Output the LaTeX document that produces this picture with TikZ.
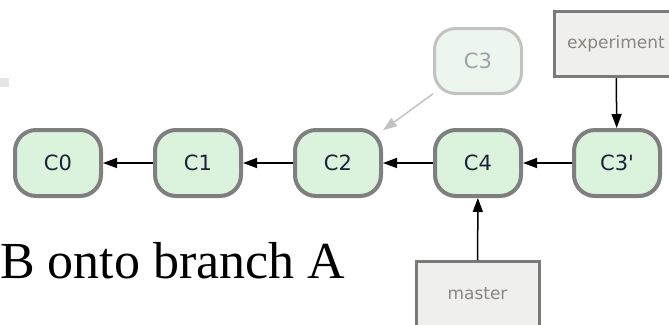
\documentclass[tikz,border=0pt]{standalone}
\usepackage{fontspec}
\setmainfont{Liberation Serif}
\newfontfamily\commitfont{DejaVu Sans}
\usetikzlibrary{arrows.meta}
\definecolor{commitfill}{HTML}{DBF2DD}
\definecolor{commitline}{HTML}{7F7F7F}
\definecolor{committext}{HTML}{1C2238}
\definecolor{ghostfill}{HTML}{EDF6EE}
\definecolor{ghostline}{HTML}{C2C2C2}
\definecolor{ghosttext}{HTML}{9AA3A8}
\definecolor{reffill}{HTML}{EFEFED}
\definecolor{refline}{HTML}{7A7A7A}
\definecolor{reftext}{HTML}{8A8580}
\tikzset{
  commit/.style={draw=commitline, line width=4pt, fill=commitfill,
    rounded corners=21pt, minimum width=86pt, minimum height=66pt,
    font=\commitfont\fontsize{21}{25}\selectfont, text=committext},
  ghost/.style={commit, draw=ghostline, line width=3pt, fill=ghostfill,
    minimum width=87pt, minimum height=65pt, text=ghosttext},
  ref/.style={draw=refline, line width=3pt, fill=reffill,
    minimum width=123pt, minimum height=65pt,
    font=\commitfont\fontsize{17}{20}\selectfont, text=reftext},
  parent/.style={line width=1.5pt, -{Triangle[length=14pt,width=10pt]}},
  oldparent/.style={parent, draw=ghostline, -{Triangle[length=14pt,width=10pt,fill=ghostline]}},
}
\begin{document}
\begin{tikzpicture}[x=1pt,y=-1pt]
\useasboundingbox (0,0) rectangle (669,324);
% faint leftover block at the left margin
\fill[gray!20] (0,78) rectangle (9,87);
% caption
\node[anchor=base west, inner sep=0pt, font=\fontsize{52}{60}\selectfont] (caption) at (0,278) {B onto branch A};
% commits
\node[commit] (C0) at (58,163) {C0};
\node[commit] (C1) at (198,163) {C1};
\node[commit] (C2) at (338,163) {C2};
\node[commit] (C4) at (478,163) {C4};
\node[commit] (C3p) at (617,163) {C3'};
\node[ghost] (C3) at (478,61) {C3};
% branch labels
\node[ref] (experiment) at (616,44) {experiment};
\node[ref] (master) at (477.5,294) {master};
% parent links
\draw[parent] (C1) -- (C0);
\draw[parent] (C2) -- (C1);
\draw[parent] (C4) -- (C2);
\draw[parent] (C3p) -- (C4);
\draw[oldparent] (C3) -- (C2);
\draw[parent] (experiment) -- (C3p);
\draw[parent] (master) -- (C4);
\end{tikzpicture}
\end{document}
